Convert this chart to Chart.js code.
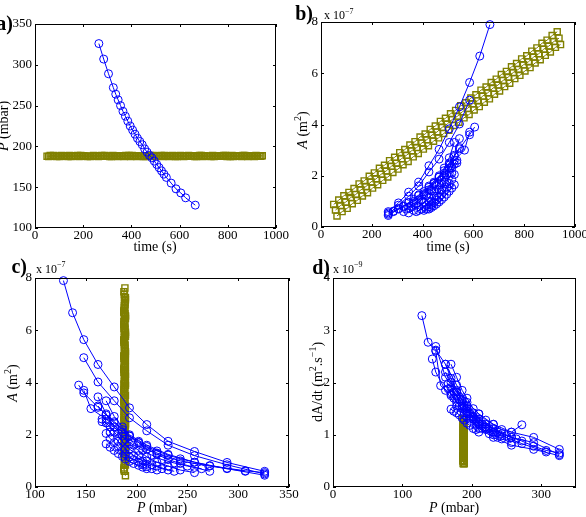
<!DOCTYPE html>
<html><head><meta charset="utf-8">
<script src="https://cdn.jsdelivr.net/npm/chart.js@4/dist/chart.umd.min.js"></script>
<style>
html,body{margin:0;padding:0;background:#fff;}
#wrap{position:relative;width:586px;height:517px;overflow:hidden;background:#fff;}
canvas{position:absolute;}
</style></head><body>
<div id="wrap">
<canvas id="ca" width="293" height="262" style="left:0;top:0"></canvas>
<canvas id="cb" width="293" height="262" style="left:293px;top:0"></canvas>
<canvas id="cc" width="310" height="267" style="left:0;top:250px"></canvas>
<canvas id="cd" width="293" height="267" style="left:293px;top:250px"></canvas>
</div>
<script>
// ---------------- DATA ----------------
// panel a: chamber pressure (mbar) vs time (s)
const pressureTime = [265,285,305,325,335,345,355,365,375,385,395,405,415,425,435,445,455,465,475,485,495,505,515,525,535,545,565,585,605,625,665];
const pressure     = [326,307,289,272,264,257,250,243,237,231,225,220,215,210,206,202,197,193,189,186,182,178,174,170,166,162,155,148,143,137,128];

// blue bubbles: time (s), pressure (mbar), area (x1e-7 m2), growth rate (x1e-9 m2/s)
const bubbleTime = [
 [265,305,345,385,425,465,505,545,585,625,665],
 [265,305,345,385,425,465,505,545,585],
 [265,305,345,385,425,465,505,545,585,605],
 [285,325,365,405,445,485,525,565,585],
 [325,345,365,385,405,425,445,465,485,505,525],
 [345,365,385,405,425,445,465,485,505,525,545],
 [375,395,415,435,455,475,495,515,535],
 [385,405,425,445,465,485,505,525],
 [405,415,425,435,445,455,465,475,485,495,505,515,525],
 [425,435,445,455,465,475,485,495,505,515,525],
 [265,285,305,325,345,365,385,405,425,445,465,485,505,525,545],
 [335,355,375,395,415,435,455,475,495,515,535]
];
const bubblePressure = [
 [326,289,257,231,210,193,178,162,148,137,128],
 [326,289,257,231,210,193,178,162,148],
 [326,289,257,231,210,193,178,162,148,143],
 [307,272,243,220,202,186,170,155,148],
 [272,257,243,231,220,210,202,193,186,178,170],
 [257,243,231,220,210,202,193,186,178,170,162],
 [237,225,215,206,197,189,182,174,166],
 [231,220,210,202,193,186,178,170],
 [220,215,210,206,202,197,193,189,186,182,178,174,170],
 [210,206,202,197,193,189,186,182,178,174,170],
 [326,307,289,272,257,243,231,220,210,202,193,186,178,170,162],
 [264,250,237,225,215,206,197,189,182,174,166]
];
const bubbleArea = [
 [0.6,0.94,1.36,1.75,2.39,3.03,3.83,4.69,5.64,6.67,7.9],
 [0.5,0.85,1.2,1.6,2.15,2.65,3.3,4.02,4.95],
 [0.45,0.7,0.95,1.25,1.6,2.0,2.5,3.05,3.6,3.9],
 [0.6,0.8,1.0,1.3,1.7,2.1,2.6,3.0,3.7],
 [0.6,0.75,0.9,1.05,1.25,1.45,1.7,1.95,2.3,2.7,3.3],
 [0.55,0.65,0.8,0.95,1.15,1.4,1.65,1.95,2.3,2.8,3.45],
 [0.6,0.7,0.85,1.0,1.2,1.45,1.75,2.1,2.5],
 [0.65,0.8,1.0,1.2,1.45,1.75,2.1,2.45],
 [0.65,0.7,0.78,0.86,0.95,1.05,1.15,1.27,1.4,1.55,1.7,1.85,2.05],
 [0.7,0.76,0.83,0.9,0.98,1.07,1.17,1.28,1.4,1.52,1.65],
 [0.55,0.62,0.72,0.82,0.95,1.08,1.22,1.38,1.55,1.75,1.95,2.2,2.45,2.75,3.1],
 [0.7,0.8,0.92,1.05,1.22,1.4,1.6,1.82,2.05,2.3,2.6]
];
const bubbleRate = [
 [0.72,0.95,1.05,1.2,1.4,1.62,1.95,2.35,2.62,2.77,3.28],
 [0.62,0.85,0.95,1.12,1.3,1.5,1.82,2.1,2.69],
 [0.6,0.72,0.8,0.95,1.12,1.35,1.55,1.85,2.2,2.45],
 [0.67,0.83,0.98,1.15,1.35,1.55,1.78,1.94,2.6],
 [1.19,1.05,1.1,1.2,1.28,1.4,1.5,1.7,1.85,2.1,2.35],
 [0.85,0.92,1.0,1.1,1.22,1.35,1.5,1.65,1.85,2.08,2.35],
 [0.95,1.02,1.12,1.2,1.3,1.42,1.55,1.7,1.88],
 [1.05,1.12,1.2,1.3,1.4,1.5,1.62,1.75],
 [1.15,1.2,1.25,1.28,1.33,1.4,1.45,1.52,1.6,1.68,1.75,1.82,1.9],
 [1.05,1.1,1.12,1.18,1.22,1.28,1.32,1.38,1.42,1.45,1.49],
 [0.65,0.7,0.78,0.88,0.95,1.02,1.1,1.2,1.3,1.42,1.55,1.68,1.82,2.0,2.2],
 [0.92,0.98,1.05,1.12,1.2,1.3,1.42,1.55,1.68,1.82,1.98]
];

// olive bubbles at constant pressure
const oliveTime = [
 [50,70,90,110,130,150,170,190,210,230,250,270,290,310,330,350,370,390,410,430,450,470,490,510,530,550,570,590,610,630,650,670,690,710,730,750,770,790,810,830,850,870,890,910,930],
 [57,77,97,117,137,157,177,197,217,237,257,277,297,317,337,357,377,397,417,437,457,477,497,517,537,557,577,597,617,637,657,677,697,717,737,757,777,797,817,837,857,877,897,917,937],
 [63,83,103,123,143,163,183,203,223,243,263,283,303,323,343,363,383,403,423,443,463,483,503,523,543,563,583,603,623,643,663,683,703,723,743,763,783,803,823,843,863,883,903,923,943]
];
const olivePressure = [
 [188,188.5,187.5,189,188,187.5,188.5,189,188,187.5,188.5,188,189,187.5,188,188.5,187.5,189,188,188.5,187.5,188,189,188.5,187.5,188,189,187.5,188.5,188,188.5,187.5,189,188,187.5,188.5,188,189,187.5,188,188.5,189,188,187.5,188.5],
 [187.5,189,188,188.5,187.5,188,189,188.5,187.5,188,188.5,189,188,187.5,188.5,188,189,187.5,188.5,188,187.5,189,188,188.5,189,187.5,188,188.5,187.5,189,188,188.5,187.5,188,189,188.5,188,187.5,189,188.5,187.5,188,188.5,189,188],
 [189,188,187.5,188.5,189,188,187.5,188.5,188,189,187.5,188.5,188,189,187.5,188,188.5,189,187.5,188,188.5,187.5,188,189,188.5,188,187.5,189,188,188.5,187.5,189,188.5,188,187.5,188,189,188.5,187.5,188,189,187.5,188.5,188,188.5]
];
const oliveArea = [
 [0.88,1.05,1.22,1.35,1.50,1.68,1.80,1.98,2.11,2.29,2.41,2.59,2.72,2.90,3.02,3.20,3.33,3.51,3.63,3.81,3.94,4.12,4.24,4.42,4.55,4.73,4.85,5.03,5.16,5.34,5.46,5.64,5.77,5.95,6.07,6.25,6.38,6.56,6.68,6.86,6.99,7.17,7.29,7.47,7.62],
 [0.66,0.84,0.97,1.15,1.27,1.45,1.58,1.76,1.88,2.06,2.19,2.37,2.49,2.67,2.80,2.98,3.10,3.28,3.41,3.59,3.71,3.89,4.02,4.20,4.32,4.50,4.63,4.81,4.93,5.11,5.24,5.42,5.54,5.72,5.85,6.03,6.15,6.33,6.45,6.63,6.76,6.94,7.06,7.24,7.37],
 [0.43,0.60,0.73,0.91,1.04,1.21,1.34,1.52,1.65,1.82,1.95,2.13,2.26,2.43,2.56,2.74,2.87,3.04,3.17,3.35,3.48,3.65,3.78,3.96,4.09,4.26,4.39,4.57,4.70,4.87,5.00,5.18,5.31,5.48,5.61,5.79,5.92,6.09,6.22,6.40,6.53,6.70,6.83,7.01,7.12]
];
const oliveRate = [
 [1.3,0.5,1.1,0.8,0.65,1.2,0.95,0.55,1.05,0.75,1.25,0.6,0.9,1.15,0.7,1.0,0.5,0.85,1.2,0.65,1.1,0.8,0.95,0.45,1.25,0.7,1.05,0.6,0.9,1.3,0.55,1.0,0.75,1.15,0.85,0.5,1.2,0.65,0.95,1.1,0.7,1.25,0.8,0.6,1.0],
 [0.45,1.0,0.7,1.25,0.85,0.6,1.15,0.9,0.5,1.3,0.75,1.05,0.55,0.95,1.2,0.65,1.1,0.8,0.5,1.0,0.7,1.25,0.9,1.15,0.6,0.85,0.45,1.2,0.75,1.0,1.3,0.65,0.9,0.55,1.1,0.8,1.25,0.7,0.5,0.95,1.15,0.6,1.05,0.85,0.75],
 [0.8,1.2,0.55,0.95,1.1,0.7,0.5,1.25,0.85,0.65,1.0,0.45,1.15,0.75,0.6,1.3,0.9,0.55,1.05,0.8,1.2,0.6,1.0,0.7,1.3,0.5,0.9,1.15,0.65,0.85,1.05,0.45,1.2,0.95,0.6,1.25,0.75,1.1,0.55,0.9,0.8,1.3,0.65,1.05,0.5]
];

// tick values
const timeTicks = [0,200,400,600,800,1000];
const pressureTicksA = [100,150,200,250,300,350];
const areaTicks = [0,2,4,6,8];
const pressureTicksC = [100,150,200,250,300,350];
const pressureTicksD = [0,100,200,300];
const rateTicks = [0,1,2,3,4];

// ---------------- STYLE / HELPERS ----------------
const FAM = '"Liberation Serif", "Times New Roman", Times, serif';
const BLUE = 'rgb(0,0,255)';
const OLIVE = 'rgb(128,128,0)';

function series(xs, ys, color, style, order) {
  return {
    data: xs.map((x, i) => ({x: x, y: ys[i]})),
    showLine: true, borderColor: color, borderWidth: 1,
    pointStyle: style, pointRadius: style === 'rect' ? 4.3 : 4,
    pointBorderColor: color, pointBackgroundColor: 'rgba(0,0,0,0)',
    pointBorderWidth: style === 'rect' ? 1.4 : 1, tension: 0, order: order, clip: false
  };
}

function drawRich(ctx, segs, x, y, size, align, rot) {
  const parts = segs.map(s => {
    const sz = s.sup ? Math.round(size * 0.7) : size;
    const font = (s.i ? 'italic ' : '') + (s.b ? 'bold ' : '') + sz + 'px ' + FAM;
    ctx.font = font;
    return {t: s.t, font: font, w: ctx.measureText(s.t).width, dy: s.sup ? -size * 0.42 : 0};
  });
  const total = parts.reduce((a, p) => a + p.w, 0);
  ctx.save();
  ctx.translate(x, y);
  if (rot) ctx.rotate(rot);
  let cx = align === 'center' ? -total / 2 : (align === 'right' ? -total : 0);
  ctx.textBaseline = 'alphabetic';
  ctx.textAlign = 'left';
  ctx.fillStyle = '#000';
  for (const p of parts) { ctx.font = p.font; ctx.fillText(p.t, cx, p.dy); cx += p.w; }
  ctx.restore();
}

function makeDecor(cfg) {
  return {
    id: 'decor',
    afterDatasetsDraw(chart) {
      const ctx = chart.ctx, ca = chart.chartArea, sx = chart.scales.x, sy = chart.scales.y;
      const L = Math.round(ca.left), R = Math.round(ca.right), T = Math.round(ca.top), B = Math.round(ca.bottom);
      ctx.save();
      ctx.strokeStyle = '#000';
      ctx.lineWidth = 1;
      ctx.strokeRect(L + 0.5, T + 0.5, R - L - 1, B - T - 1);
      ctx.beginPath();
      const tl = 3;
      for (const v of cfg.xTicks) {
        const p = Math.round(sx.getPixelForValue(v)) + 0.5;
        ctx.moveTo(p, B); ctx.lineTo(p, B - tl);
        ctx.moveTo(p, T); ctx.lineTo(p, T + tl);
      }
      for (const v of cfg.yTicks) {
        const p = Math.round(sy.getPixelForValue(v)) + 0.5;
        ctx.moveTo(L, p); ctx.lineTo(L + tl, p);
        ctx.moveTo(R, p); ctx.lineTo(R - tl, p);
      }
      ctx.stroke();
      ctx.restore();
      for (const t of cfg.texts) drawRich(ctx, t.segs, t.x, t.y, t.size, t.align, t.rot);
    }
  };
}

function axis(min, max, ticks, fitFn) {
  return {
    type: 'linear', min: min, max: max,
    afterBuildTicks: s => { s.ticks = ticks.map(v => ({value: v})); },
    afterFit: s => { fitFn(s); s.paddingLeft = 0; s.paddingRight = 0; s.paddingTop = 0; s.paddingBottom = 0; },
    grid: {display: false, drawTicks: false},
    border: {display: false},
    ticks: {
      font: {family: FAM, size: 13}, color: '#000', padding: 3,
      autoSkip: false, maxRotation: 0, minRotation: 0,
      callback: v => String(v)
    }
  };
}

function makeChart(cfg) {
  const el = document.getElementById(cfg.canvas);
  const xAx = axis(cfg.xMin, cfg.xMax, cfg.xTicks, s => { s.height = cfg.xH; });
  xAx.ticks.padding = 0;
  const yAx = axis(cfg.yMin, cfg.yMax, cfg.yTicks, s => { s.width = cfg.yW; });
  return new Chart(el, {
    type: 'scatter',
    data: {datasets: cfg.datasets},
    options: {
      responsive: false, animation: false, devicePixelRatio: 1, events: [],
      layout: {padding: {top: cfg.top, right: cfg.right, left: 0, bottom: 0}},
      plugins: {legend: {display: false}, tooltip: {enabled: false}},
      scales: {x: xAx, y: yAx}
    },
    plugins: [makeDecor(cfg)]
  });
}

// text pieces
const titleTime = [{t: 'time (s)'}];
const titleP = [{t: 'P', i: true}, {t: ' (mbar)'}];
const titleA = [{t: 'A', i: true}, {t: ' (m'}, {t: '2', sup: true}, {t: ')'}];
const titleRate = [{t: 'dA/dt (m'}, {t: '2', sup: true}, {t: '.s'}, {t: '\u22121', sup: true}, {t: ')'}];
const exp7 = [{t: 'x 10'}, {t: '\u22127', sup: true}];
const exp9 = [{t: 'x 10'}, {t: '\u22129', sup: true}];
const ROT = -Math.PI / 2;

// ---------------- PANELS ----------------
const dsA = [series(pressureTime, pressure, BLUE, 'circle', 0)]
  .concat(oliveTime.map((t, k) => series(t, olivePressure[k], OLIVE, 'rect', 1)));
const dsB = bubbleTime.map((t, k) => series(t, bubbleArea[k], BLUE, 'circle', 0))
  .concat(oliveTime.map((t, k) => series(t, oliveArea[k], OLIVE, 'rect', 1)));
const dsC = bubblePressure.map((p, k) => series(p, bubbleArea[k], BLUE, 'circle', 0))
  .concat(olivePressure.map((p, k) => series(p, oliveArea[k], OLIVE, 'rect', 1)));
const dsD = bubblePressure.map((p, k) => series(p, bubbleRate[k], BLUE, 'circle', 0))
  .concat(olivePressure.map((p, k) => series(p, oliveRate[k], OLIVE, 'rect', 1)));

makeChart({
  canvas: 'ca', top: 24, right: 17, yW: 35, xH: 34,
  xMin: 0, xMax: 1000, yMin: 100, yMax: 350, xTicks: timeTicks, yTicks: pressureTicksA,
  datasets: dsA,
  texts: [
    {segs: [{t: 'a)', b: true}], x: 13, y: 30, size: 20, align: 'right'},
    {segs: titleP, x: 8, y: 126, size: 14, align: 'center', rot: ROT},
    {segs: titleTime, x: 155, y: 251, size: 14, align: 'center'}
  ]
});
makeChart({
  canvas: 'cb', top: 22, right: 11, yW: 28, xH: 35,
  xMin: 0, xMax: 1000, yMin: 0, yMax: 8, xTicks: timeTicks, yTicks: areaTicks,
  datasets: dsB,
  texts: [
    {segs: [{t: 'b)', b: true}], x: 20, y: 19.5, size: 20, align: 'right'},
    {segs: exp7, x: 31, y: 19, size: 12, align: 'left'},
    {segs: titleA, x: 14, y: 130, size: 14, align: 'center', rot: ROT},
    {segs: titleTime, x: 155, y: 251, size: 14, align: 'center'}
  ]
});
makeChart({
  canvas: 'cc', top: 28, right: 21, yW: 35, xH: 30,
  xMin: 100, xMax: 350, yMin: 0, yMax: 8, xTicks: pressureTicksC, yTicks: areaTicks,
  datasets: dsC,
  texts: [
    {segs: [{t: 'c)', b: true}], x: 27, y: 23, size: 20, align: 'right'},
    {segs: exp7, x: 36, y: 22.5, size: 12, align: 'left'},
    {segs: titleA, x: 17, y: 133, size: 14, align: 'center', rot: ROT},
    {segs: titleP, x: 162, y: 262, size: 14, align: 'center'}
  ]
});
makeChart({
  canvas: 'cd', top: 28, right: 10, yW: 40, xH: 30,
  xMin: 0, xMax: 350, yMin: 0, yMax: 4, xTicks: pressureTicksD, yTicks: rateTicks,
  datasets: dsD,
  texts: [
    {segs: [{t: 'd)', b: true}], x: 37, y: 23.5, size: 20, align: 'right'},
    {segs: exp9, x: 40, y: 22.5, size: 12, align: 'left'},
    {segs: titleRate, x: 29, y: 132, size: 14, align: 'center', rot: ROT},
    {segs: titleP, x: 161, y: 262, size: 14, align: 'center'}
  ]
});
</script>
</body></html>
